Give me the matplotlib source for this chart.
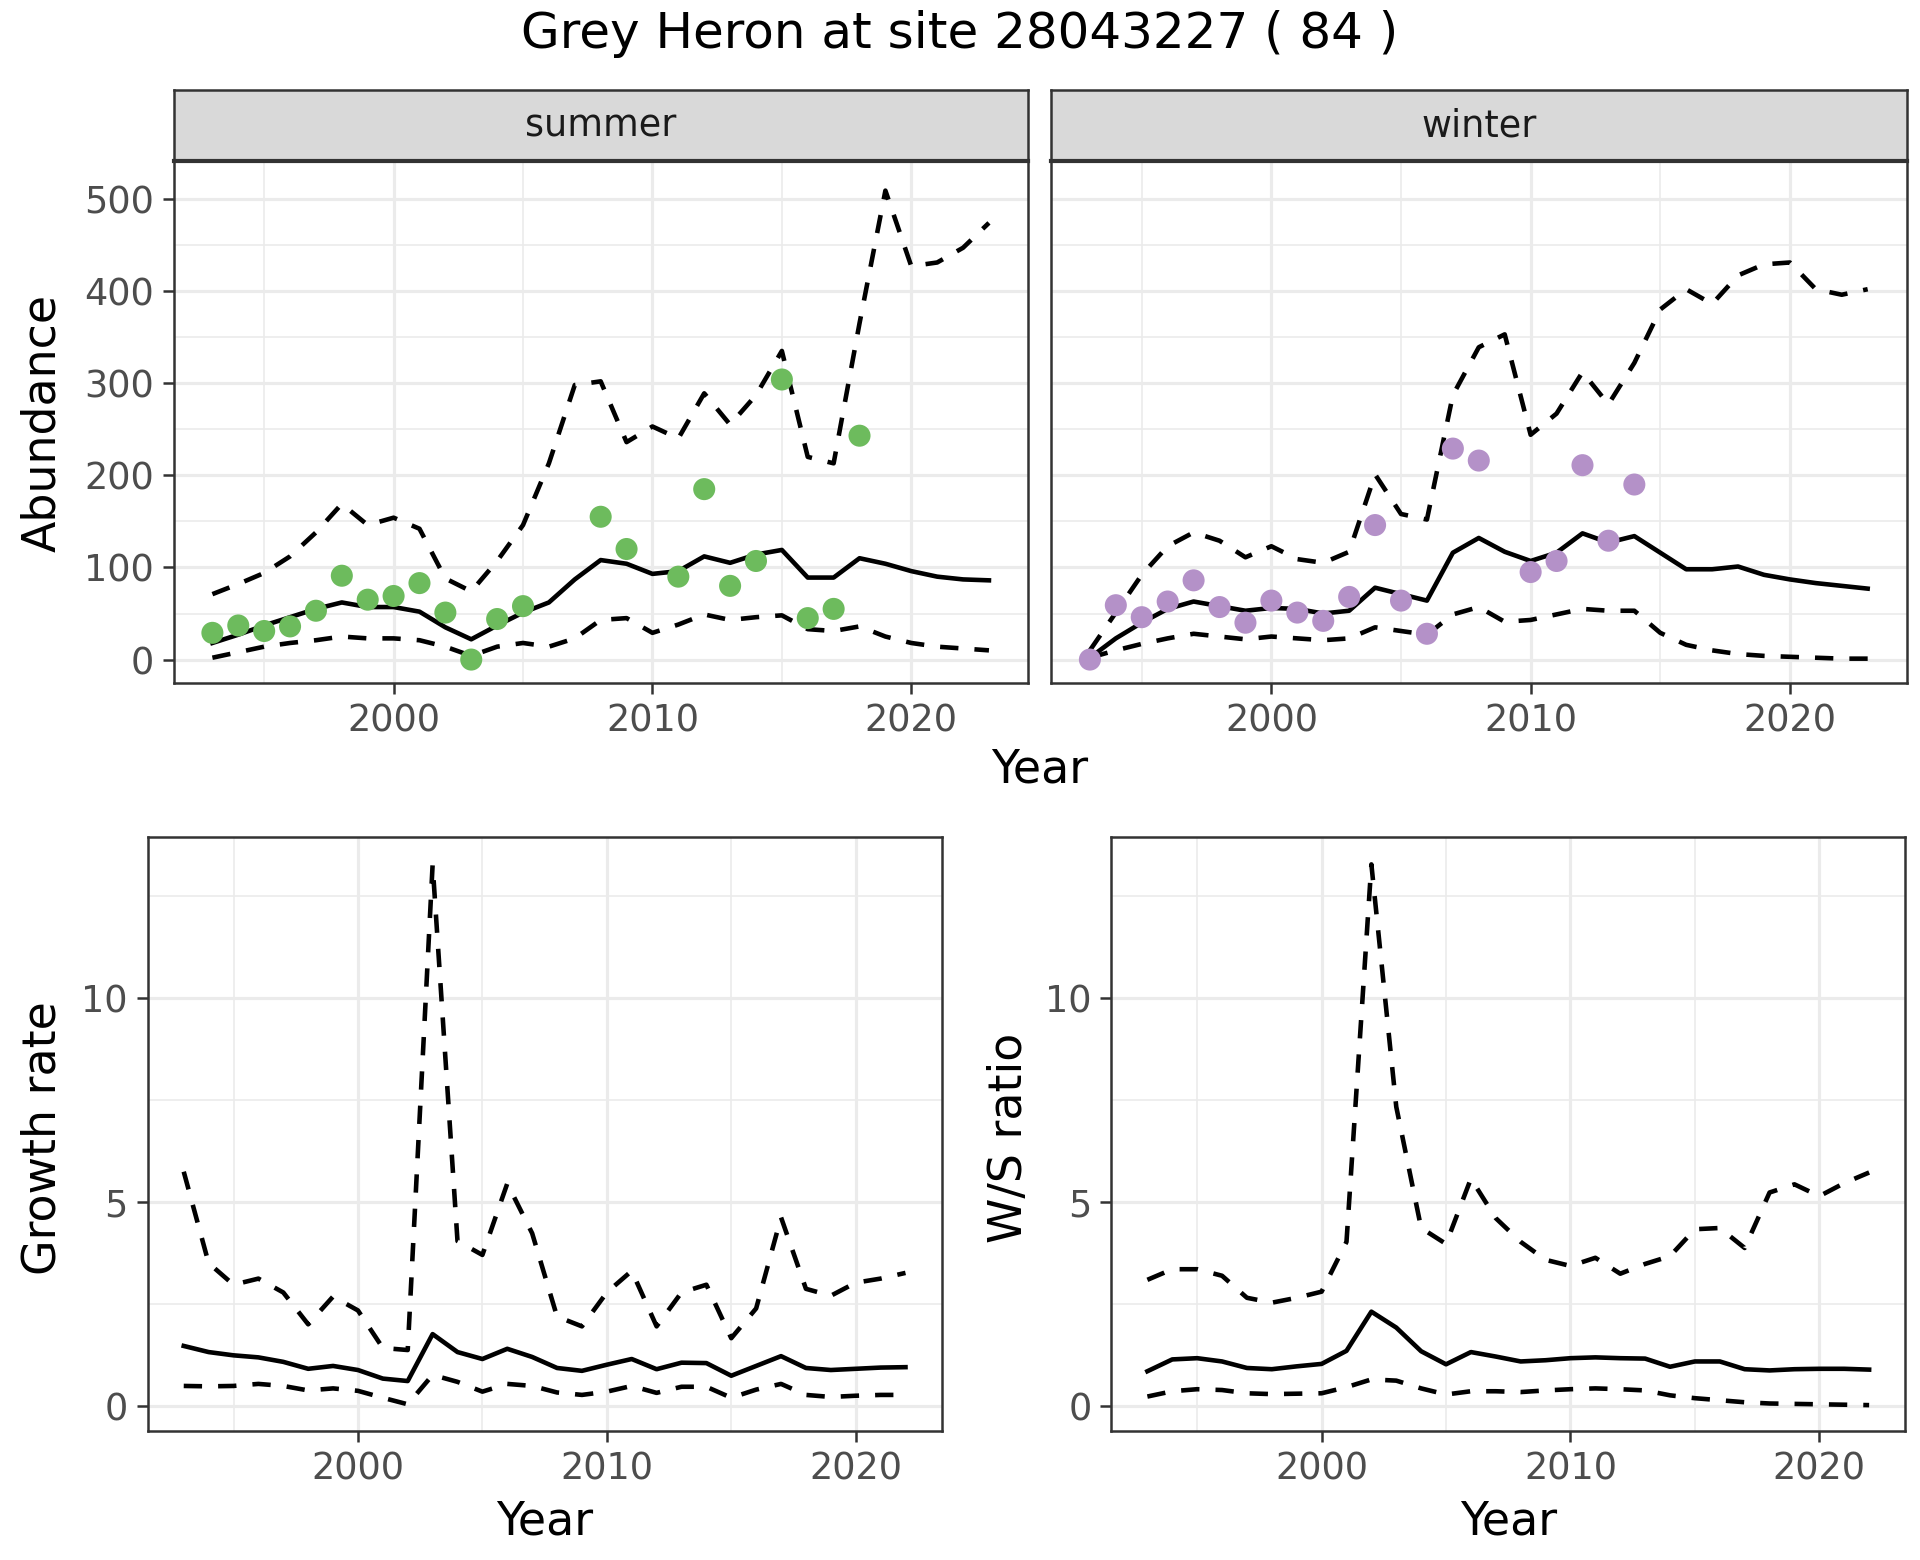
import matplotlib.pyplot as plt
import numpy as np

# years
years = list(range(1993, 2024))
years_rate = list(range(1993, 2023))

# summer abundance: counts + fitted mean and interval
summer_obs_years = [1993, 1994, 1995, 1996, 1997, 1998, 1999, 2000, 2001, 2002, 2003, 2004, 2005,
                    2008, 2009, 2011, 2012, 2013, 2014, 2015, 2016, 2017, 2018]
summer_obs = [29, 37, 31, 36, 53, 91, 65, 69, 83, 51, 0, 44, 58,
              155, 120, 90, 185, 80, 107, 304, 45, 55, 243]
summer_mean = [18, 27, 37, 46, 55, 62, 57, 57, 52, 35, 22, 37, 51, 62, 87, 108, 104, 93, 96, 112,
               105, 114, 119, 89, 89, 110, 104, 96, 90, 87, 86]
summer_upper = [71, 82, 94, 112, 138, 169, 146, 154, 142, 88, 74, 107, 146, 213, 298, 302, 236, 253,
                240, 289, 255, 287, 335, 220, 213, 365, 509, 427, 431, 447, 474]
summer_lower = [2, 8, 14, 18, 21, 25, 23, 23, 21, 14, 4, 14, 18, 14, 23, 43, 45, 29, 38, 49,
                43, 46, 48, 33, 31, 36, 25, 18, 14, 12, 10]

# winter abundance
winter_obs_years = [1993, 1994, 1995, 1996, 1997, 1998, 1999, 2000, 2001, 2002, 2003, 2004, 2005,
                    2006, 2007, 2008, 2010, 2011, 2012, 2013, 2014]
winter_obs = [0, 59, 46, 63, 86, 57, 40, 64, 51, 42, 68, 146, 64,
              28, 229, 216, 95, 107, 211, 129, 190]
winter_mean = [2, 23, 40, 55, 63, 58, 53, 56, 55, 50, 53, 78, 71, 64, 116, 132, 117, 107, 116, 137,
               127, 134, 116, 98, 98, 101, 92, 87, 83, 80, 77]
winter_upper = [10, 51, 92, 123, 138, 129, 111, 123, 109, 105, 117, 201, 158, 152, 287, 339, 353, 244,
                267, 312, 277, 322, 380, 402, 386, 417, 429, 431, 402, 396, 402]
winter_lower = [2, 10, 17, 23, 28, 25, 22, 25, 23, 21, 23, 35, 31, 27, 49, 57, 41, 43, 49, 55,
                53, 53, 29, 16, 10, 6, 4, 3, 2, 1, 1]

# growth rate
growth_mean = [1.48, 1.33, 1.25, 1.20, 1.09, 0.92, 0.99, 0.89, 0.68, 0.62, 1.77, 1.33, 1.16, 1.41, 1.21,
               0.94, 0.87, 1.02, 1.16, 0.91, 1.07, 1.06, 0.75, 0.99, 1.23, 0.94, 0.89, 0.92, 0.95, 0.96]
growth_upper = [5.75, 3.51, 2.98, 3.13, 2.79, 2.01, 2.69, 2.35, 1.43, 1.38, 13.27, 4.05, 3.71, 5.46, 4.24,
                2.20, 1.96, 2.79, 3.32, 1.96, 2.79, 2.98, 1.67, 2.40, 4.63, 2.88, 2.71, 3.03, 3.13, 3.27]
growth_lower = [0.50, 0.49, 0.50, 0.55, 0.50, 0.39, 0.44, 0.38, 0.21, 0.05, 0.77, 0.60, 0.36, 0.55, 0.50,
                0.34, 0.28, 0.36, 0.50, 0.33, 0.48, 0.48, 0.21, 0.41, 0.55, 0.28, 0.23, 0.26, 0.28, 0.28]

# winter / summer ratio
ratio_mean = [0.86, 1.15, 1.18, 1.10, 0.94, 0.91, 0.98, 1.04, 1.36, 2.32, 1.93, 1.35, 1.03, 1.33, 1.22,
              1.10, 1.13, 1.18, 1.20, 1.18, 1.17, 0.97, 1.10, 1.10, 0.91, 0.88, 0.91, 0.92, 0.92, 0.90]
ratio_upper = [3.10, 3.36, 3.36, 3.20, 2.66, 2.54, 2.66, 2.81, 4.03, 13.28, 7.34, 4.37, 3.98, 5.58, 4.61,
               4.03, 3.59, 3.44, 3.64, 3.25, 3.49, 3.68, 4.34, 4.37, 3.88, 5.24, 5.44, 5.15, 5.47, 5.73]
ratio_lower = [0.24, 0.37, 0.42, 0.40, 0.32, 0.30, 0.31, 0.32, 0.47, 0.66, 0.63, 0.44, 0.29, 0.37, 0.37,
               0.35, 0.39, 0.42, 0.44, 0.42, 0.39, 0.27, 0.20, 0.15, 0.10, 0.07, 0.06, 0.05, 0.04, 0.03]

GRID = '#EBEBEB'
BORDER = '#333333'
TICKCOL = '#4D4D4D'

plt.rcParams['font.family'] = 'DejaVu Sans'

fig = plt.figure(figsize=(6.4, 5.2), dpi=300)


def style_axes(ax, xticks, yticks, xminor, yminor, show_ylabels=True):
    ax.set_xticks(xticks)
    ax.set_yticks(yticks)
    ax.set_xticks(xminor, minor=True)
    ax.set_yticks(yminor, minor=True)
    ax.grid(which='major', color=GRID, lw=0.75)
    ax.grid(which='minor', color=GRID, lw=0.4)
    ax.set_axisbelow(True)
    ax.tick_params(which='major', length=2.75, width=0.6, color=BORDER, labelsize=8.8,
                   labelcolor=TICKCOL, pad=2)
    ax.tick_params(which='minor', length=0)
    if not show_ylabels:
        ax.tick_params(axis='y', which='major', length=0, labelleft=False)
    for s in ax.spines.values():
        s.set_color(BORDER)
        s.set_linewidth(0.6)


def draw_band(ax, x, mean, lower, upper):
    ax.plot(x, upper, color='black', lw=1.1, ls=(0, (4, 3.5)))
    ax.plot(x, lower, color='black', lw=1.1, ls=(0, (4, 3.5)))
    ax.plot(x, mean, color='black', lw=1.1)


# top panels: abundance
panels = [
    ('summer', 0.0904, 0.5353, summer_obs_years, summer_obs, summer_mean, summer_lower, summer_upper, '#6DBB5D'),
    ('winter', 0.5474, 0.9930, winter_obs_years, winter_obs, winter_mean, winter_lower, winter_upper, '#B491C8'),
]
for i, (name, l, r, oy, ov, m, lo, up, col) in enumerate(panels):
    ax = fig.add_axes([l, 0.5622, r - l, 0.8967 - 0.5622])
    draw_band(ax, years, m, lo, up)
    ax.scatter(oy, ov, s=28, color=col, edgecolors='none', zorder=5)
    ax.set_xlim(1991.5, 2024.5)
    ax.set_ylim(-25.4, 541)
    style_axes(ax, [2000, 2010, 2020], [0, 100, 200, 300, 400, 500],
               [1995, 2005, 2015], [50, 150, 250, 350, 450], show_ylabels=(i == 0))
    # facet strip
    sax = fig.add_axes([l, 0.8967, r - l, 0.9424 - 0.8967])
    sax.set_facecolor('#D9D9D9')
    sax.set_xticks([])
    sax.set_yticks([])
    for s in sax.spines.values():
        s.set_color(BORDER)
        s.set_linewidth(0.6)
    sax.spines['bottom'].set_linewidth(1.0)
    sax.text(0.5, 0.5, name, ha='center', va='center', fontsize=8.8, color='#1A1A1A',
             transform=sax.transAxes)

fig.text(0.5417, 0.5063, 'Year', ha='center', va='center', fontsize=11)
fig.text(0.0224, 0.7287, 'Abundance', ha='center', va='center', rotation=90, fontsize=11)

# bottom panels
bottom = [
    (0.0769, 0.4904, growth_mean, growth_lower, growth_upper, 'Growth rate', 0.0224),
    (0.5788, 0.9923, ratio_mean, ratio_lower, ratio_upper, 'W/S ratio', 0.5256),
]
for l, r, m, lo, up, lab, lx in bottom:
    ax = fig.add_axes([l, 0.0828, r - l, 0.4637 - 0.0828])
    draw_band(ax, years_rate, m, lo, up)
    ax.set_xlim(1991.55, 2023.45)
    ax.set_ylim(-0.6, 13.96)
    style_axes(ax, [2000, 2010, 2020], [0, 5, 10], [1995, 2005, 2015], [2.5, 7.5, 12.5])
    fig.text((l + r) / 2, 0.0244, 'Year', ha='center', va='center', fontsize=11)
    fig.text(lx, 0.2705, lab, ha='center', va='center', rotation=90, fontsize=11)

fig.text(0.5, 0.978, 'Grey Heron at site 28043227 ( 84 )', ha='center', va='center', fontsize=12)

fig.savefig('out.png', dpi=300)
